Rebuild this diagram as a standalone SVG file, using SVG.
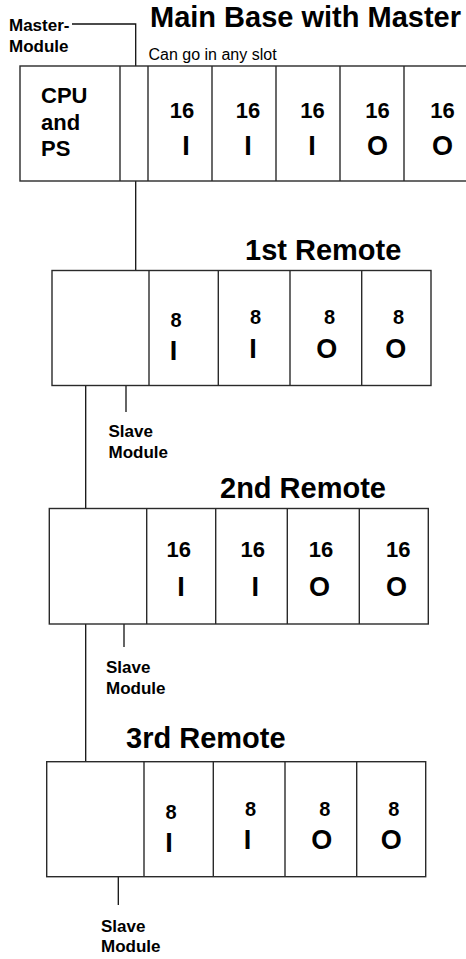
<svg xmlns="http://www.w3.org/2000/svg" width="466" height="959" viewBox="0 0 466 959">
<style>
  .box { fill: #fff; stroke: #2a2a2a; stroke-width: 1.4; }
  .div { stroke: #2a2a2a; stroke-width: 1.4; fill: none; }
  .wire { stroke: #111; stroke-width: 1.3; fill: none; }
  text { font-family: "Liberation Sans", Arial, Helvetica, sans-serif; fill: #000; }
  .title { font-size: 29px; font-weight: bold; }
  .lbl { font-size: 17px; font-weight: bold; }
  .note { font-size: 16px; }
  .cpu { font-size: 22px; font-weight: bold; }
  .num { font-size: 22px; font-weight: bold; text-anchor: middle; }
  .num8 { font-size: 20px; font-weight: bold; text-anchor: middle; }
  .io { font-size: 27px; font-weight: bold; text-anchor: middle; }
</style>
<rect width="466" height="959" fill="#fff"/>

<g id="connectors">
  <polyline class="wire" points="72,24 135.7,24 135.7,73"/>
  <line class="wire" x1="135.7" y1="181" x2="135.7" y2="270.5"/>
  <line class="wire" x1="126" y1="375" x2="126" y2="412"/>
  <line class="wire" x1="85.7" y1="385.5" x2="85.7" y2="508.5"/>
  <line class="wire" x1="124" y1="611" x2="124" y2="647"/>
  <line class="wire" x1="85.7" y1="624" x2="85.7" y2="761.7"/>
  <line class="wire" x1="118.3" y1="869" x2="118.3" y2="905"/>
</g>

<g id="master-label">
  <text class="lbl" x="9" y="31">Master-</text>
  <text class="lbl" x="9" y="52">Module</text>
</g>

<g id="main-base">
  <text class="title" x="150" y="27">Main Base with Master</text>
  <text class="note" x="148.5" y="59.5">Can go in any slot</text>
  <rect class="box" x="20" y="66" width="460" height="115"/>
  <line class="div" x1="120" y1="66" x2="120" y2="181"/>
  <line class="div" x1="148" y1="66" x2="148" y2="181"/>
  <line class="div" x1="212" y1="66" x2="212" y2="181"/>
  <line class="div" x1="276" y1="66" x2="276" y2="181"/>
  <line class="div" x1="340" y1="66" x2="340" y2="181"/>
  <line class="div" x1="404" y1="66" x2="404" y2="181"/>
  <text class="cpu" x="41" y="103">CPU</text>
  <text class="cpu" x="41" y="130">and</text>
  <text class="cpu" x="41" y="156">PS</text>
  <text class="num" x="182" y="118">16</text>
  <text class="num" x="248" y="118">16</text>
  <text class="num" x="312.5" y="118">16</text>
  <text class="num" x="377.5" y="118">16</text>
  <text class="num" x="442.5" y="118">16</text>
  <text class="io" x="186" y="155">I</text>
  <text class="io" x="248" y="155">I</text>
  <text class="io" x="312" y="155">I</text>
  <text class="io" x="377.5" y="155">O</text>
  <text class="io" x="442.5" y="155">O</text>
</g>

<g id="remote-1">
  <text class="title" x="245" y="260">1st Remote</text>
  <rect class="box" x="52" y="270.5" width="379" height="115"/>
  <line class="div" x1="149" y1="270.5" x2="149" y2="385.5"/>
  <line class="div" x1="218.3" y1="270.5" x2="218.3" y2="385.5"/>
  <line class="div" x1="290" y1="270.5" x2="290" y2="385.5"/>
  <line class="div" x1="361.7" y1="270.5" x2="361.7" y2="385.5"/>
  <text class="num8" x="176" y="327">8</text>
  <text class="num8" x="255.5" y="324">8</text>
  <text class="num8" x="329.5" y="324">8</text>
  <text class="num8" x="398.5" y="324">8</text>
  <text class="io" x="173.5" y="359.5">I</text>
  <text class="io" x="253" y="357.5">I</text>
  <text class="io" x="326.7" y="357.5">O</text>
  <text class="io" x="395.8" y="357.5">O</text>
  <text class="lbl" x="108.5" y="437">Slave</text>
  <text class="lbl" x="108.5" y="458">Module</text>
</g>

<g id="remote-2">
  <text class="title" x="220" y="498">2nd Remote</text>
  <rect class="box" x="49.3" y="508.5" width="379" height="115.5"/>
  <line class="div" x1="146.7" y1="508.5" x2="146.7" y2="624"/>
  <line class="div" x1="215.7" y1="508.5" x2="215.7" y2="624"/>
  <line class="div" x1="287.3" y1="508.5" x2="287.3" y2="624"/>
  <line class="div" x1="359.3" y1="508.5" x2="359.3" y2="624"/>
  <text class="num" x="178.7" y="557">16</text>
  <text class="num" x="252.8" y="557">16</text>
  <text class="num" x="321" y="557">16</text>
  <text class="num" x="398.3" y="557">16</text>
  <text class="io" x="181" y="596">I</text>
  <text class="io" x="255.3" y="596">I</text>
  <text class="io" x="319.5" y="596">O</text>
  <text class="io" x="396.5" y="596">O</text>
  <text class="lbl" x="106" y="673">Slave</text>
  <text class="lbl" x="106" y="693.5">Module</text>
</g>

<g id="remote-3">
  <text class="title" x="126" y="748">3rd Remote</text>
  <rect class="box" x="46.7" y="761.7" width="379" height="115"/>
  <line class="div" x1="144" y1="761.7" x2="144" y2="876.7"/>
  <line class="div" x1="213.3" y1="761.7" x2="213.3" y2="876.7"/>
  <line class="div" x1="285" y1="761.7" x2="285" y2="876.7"/>
  <line class="div" x1="356.7" y1="761.7" x2="356.7" y2="876.7"/>
  <text class="num8" x="171" y="818.5">8</text>
  <text class="num8" x="250.5" y="815.5">8</text>
  <text class="num8" x="324.7" y="815.5">8</text>
  <text class="num8" x="393.7" y="815.5">8</text>
  <text class="io" x="169" y="851.5">I</text>
  <text class="io" x="247.5" y="848.5">I</text>
  <text class="io" x="321.7" y="848.5">O</text>
  <text class="io" x="391.2" y="848.5">O</text>
  <text class="lbl" x="101" y="931.5">Slave</text>
  <text class="lbl" x="101" y="951.5">Module</text>
</g>
</svg>
